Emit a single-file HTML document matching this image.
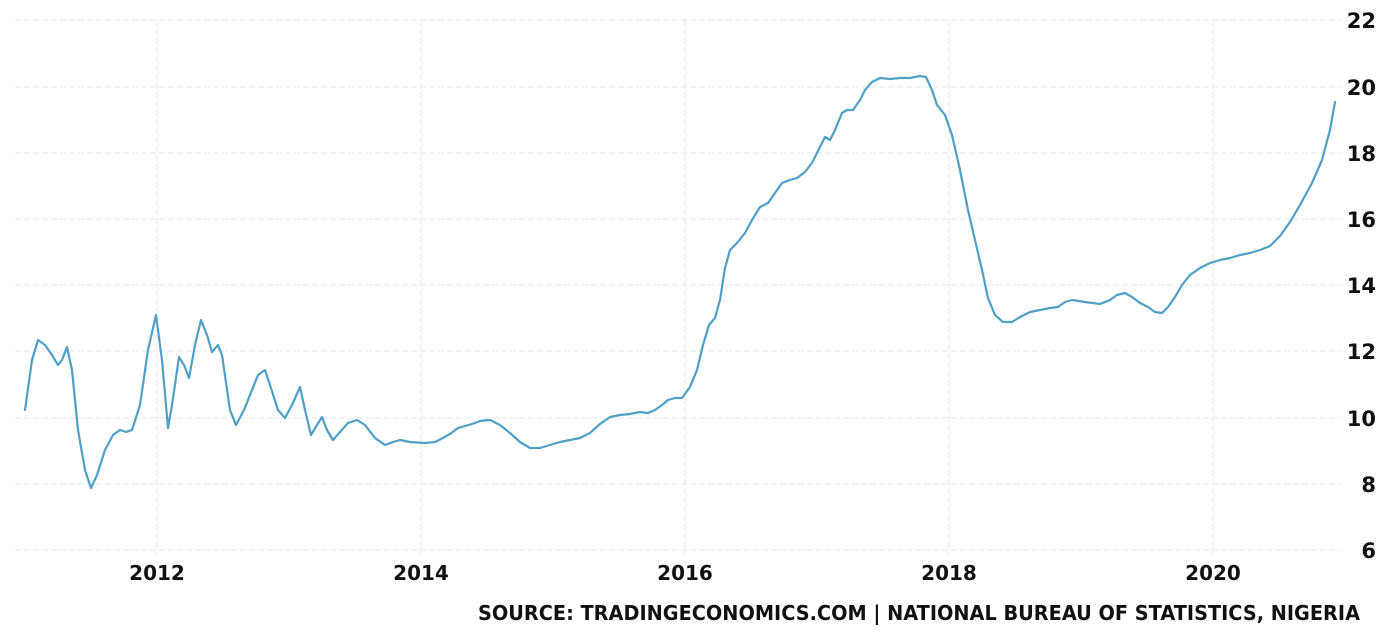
<!DOCTYPE html>
<html><head><meta charset="utf-8"><style>
html,body{margin:0;padding:0;background:#fff;}
svg{display:block;}
text{font-family:"DejaVu Sans","Liberation Sans",sans-serif;font-weight:bold;fill:#111;}
</style></head><body>
<svg width="1386" height="640" viewBox="0 0 1386 640">
<g stroke="#e3e9ec" stroke-width="1" stroke-dasharray="6,3">
<line x1="15" x2="1340" y1="20" y2="20"/>
<line x1="15" x2="1340" y1="87" y2="87"/>
<line x1="15" x2="1340" y1="153" y2="153"/>
<line x1="15" x2="1340" y1="219" y2="219"/>
<line x1="15" x2="1340" y1="285" y2="285"/>
<line x1="15" x2="1340" y1="351" y2="351"/>
<line x1="15" x2="1340" y1="418" y2="418"/>
<line x1="15" x2="1340" y1="484" y2="484"/>
<line x1="15" x2="1340" y1="550" y2="550"/>
<line y1="20" y2="555" x1="157" x2="157"/>
<line y1="20" y2="555" x1="421" x2="421"/>
<line y1="20" y2="555" x1="685" x2="685"/>
<line y1="20" y2="555" x1="949" x2="949"/>
<line y1="20" y2="555" x1="1213" x2="1213"/>
</g>
<g font-size="21" text-anchor="end">
<text x="1376" y="28">22</text>
<text x="1376" y="95">20</text>
<text x="1376" y="161">18</text>
<text x="1376" y="227">16</text>
<text x="1376" y="293">14</text>
<text x="1376" y="359">12</text>
<text x="1376" y="426">10</text>
<text x="1376" y="492">8</text>
<text x="1376" y="558">6</text>
</g>
<g font-size="20" text-anchor="middle">
<text x="157" y="580">2012</text>
<text x="421" y="580">2014</text>
<text x="685" y="580">2016</text>
<text x="949" y="580">2018</text>
<text x="1213" y="580">2020</text>
</g>
<text x="478" y="620" font-size="20" textLength="882" lengthAdjust="spacingAndGlyphs" style="font-weight:600">SOURCE: TRADINGECONOMICS.COM | NATIONAL BUREAU OF STATISTICS, NIGERIA</text>
<polyline fill="none" stroke="#4f9fc6" stroke-width="2.2" stroke-linejoin="round" stroke-linecap="round" points="25,410 32,360 38,340 45,345 52,355 58,365 62,360 67,347 72,370 78,430 85,470 91,488 97,475 105,450 113,435 120,430 126,432 132,430 140,405 148,350 156,315 162,360 168,428 172,405 179,357 184,365 189,378 195,345 201,320 207,335 212,352 218,345 222,355 230,410 236,425 244,410 252,390 258,375 265,370 270,385 278,410 285,418 292,405 300,387 305,410 311,435 317,425 322,417 327,430 333,440 340,432 348,423 357,420 365,425 375,438 385,445 393,442 400,440 410,442 425,443 435,442 443,438 450,434 458,428 465,426 472,424 480,421 490,420 500,425 510,433 520,442 530,448 540,448 550,445 560,442 570,440 580,438 590,433 600,424 610,417 620,415 630,414 640,412 648,413 655,410 662,405 668,400 675,398 682,398 690,387 697,370 703,345 709,325 715,318 720,300 725,268 730,250 737,243 745,233 752,220 760,207 768,203 775,193 782,183 790,180 797,178 805,172 812,163 820,147 825,137 830,140 835,130 842,113 847,110 853,110 860,100 865,90 872,82 880,78 890,79 900,78 910,78 920,76 926,77 932,90 937,105 945,115 952,135 960,170 968,210 975,240 982,270 988,298 995,315 1003,322 1012,322 1020,317 1030,312 1040,310 1050,308 1058,307 1065,302 1072,300 1085,302 1100,304 1110,300 1117,295 1125,293 1132,297 1140,303 1148,307 1155,312 1162,313 1168,307 1175,297 1182,285 1190,275 1200,268 1210,263 1220,260 1230,258 1240,255 1250,253 1260,250 1270,246 1280,236 1290,222 1300,205 1312,183 1322,160 1330,130 1335,102"/>
</svg>
</body></html>
